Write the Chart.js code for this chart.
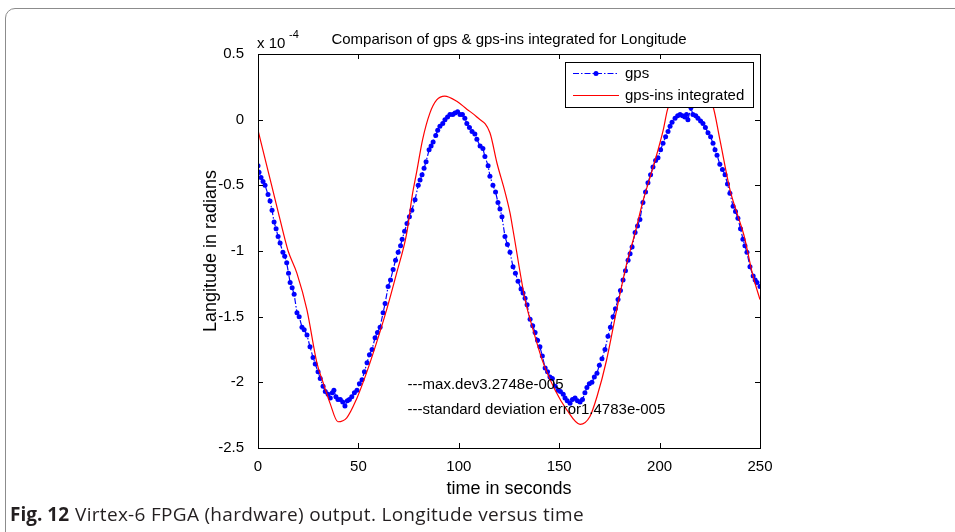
<!DOCTYPE html>
<html>
<head>
<meta charset="utf-8">
<script src="https://cdn.jsdelivr.net/npm/chart.js@4.4.0/dist/chart.umd.min.js"></script>
<style>
    html, body { margin: 0; padding: 0; background: #fff; width: 955px; height: 532px; overflow: hidden; }
    #frame { position: absolute; left: 5px; top: 8px; width: 1000px; height: 600px; border: 1.5px solid #8c8c8c; border-radius: 10px; box-sizing: border-box; }
    #plot { position: absolute; left: 0; top: 0; }
    #caption { position: absolute; left: 10px; top: 501px; font-family: "Open Sans"; font-size: 19px; letter-spacing: 0.3px; color: #231f20; white-space: nowrap; }
    #caption b { margin-right: 6px; letter-spacing: 0; }
</style>
</head>
<body>
<div id="frame"></div>
<canvas id="plot" width="955" height="532"></canvas>
<div id="caption"><b>Fig. 12</b>Virtex-6 FPGA (hardware) output. Longitude versus time</div>
<script>
// values in units of 1e-4 rad, time in seconds
const gpsTime = [0, 0.5, 1.5, 2.5, 3.5, 5, 6, 7, 8, 9, 10, 11, 12.4, 13.3, 14.3, 15.2, 16, 17, 18, 19.4,
    20.5, 21.9, 23, 24.4, 25.9, 27.4, 28.5, 29.9, 31, 32.4, 33.5, 34.9, 36, 37, 37.8, 38.8, 39.8, 41, 42.2, 43.3,
    44.5, 45.5, 46.7, 48, 49.3, 50.5, 51.8, 53, 54.3, 55.5, 56.8, 58.3, 59.5, 60.8, 62.3, 63.3, 64.8, 66, 67.3, 68.5,
    69.8, 71, 71.8, 73, 74.2, 75.4, 76.6, 78.2, 79.8, 80.7, 81.7, 82.7, 83.7, 85.2, 86.2, 87.2, 88.5, 89.5, 90.6, 92,
    93.1, 94.4, 95.6, 97, 98.1, 99.4, 100.6, 101.8, 103, 104, 105.3, 106.6, 108, 109, 110.6, 112, 113, 114.6, 115.5, 117,
    118.3, 119.5, 120.5, 121.5, 123, 124.2, 125.5, 127, 128.2, 129.5, 131, 132, 133, 134, 135.5, 136.8, 138, 139.2, 140.4, 141.6,
    143, 144.2, 145.4, 146.6, 148, 149.4, 150.6, 152, 152.9, 154, 155.4, 156.6, 157.9, 159.1, 160.4, 161.6, 162.8, 163.8, 165, 166.3,
    167.5, 168.8, 170, 171.3, 172.8, 174.3, 175.5, 176.8, 178, 179.3, 180.5, 181.8, 183, 184.3, 185.3, 186.3, 187.8, 189, 190.2, 191.7,
    193, 194.2, 195.5, 196.7, 198, 199.2, 200.5, 201.7, 203, 204.2, 205.2, 206.2, 207.7, 209, 210.2, 211.4, 212.6, 213.4, 214.1, 215.6,
    216.6, 218, 219.1, 220.4, 221.6, 222.8, 224.1, 225.4, 226.6, 227.6, 228.6, 230, 231.3, 232.6, 233.8, 235, 236.6, 237.8, 239, 240.3,
    241.5, 242.5, 243.5, 245, 246.6, 247.6, 248.5, 250];
const gpsLon = [-0.35, -0.40, -0.44, -0.47, -0.50, -0.57, -0.62, -0.69, -0.78, -0.83, -0.89, -0.94, -1.01, -1.04, -1.09, -1.17, -1.24, -1.28, -1.33, -1.47,
    -1.50, -1.58, -1.60, -1.64, -1.73, -1.81, -1.86, -1.92, -1.97, -2.03, -2.07, -2.09, -2.12, -2.08, -2.06, -2.11, -2.13, -2.13, -2.15, -2.18,
    -2.14, -2.13, -2.11, -2.08, -2.06, -2.01, -1.98, -1.92, -1.85, -1.79, -1.75, -1.66, -1.62, -1.58, -1.47, -1.40, -1.27, -1.22, -1.14, -1.07,
    -1.01, -0.96, -0.91, -0.85, -0.79, -0.74, -0.69, -0.61, -0.50, -0.46, -0.42, -0.37, -0.32, -0.23, -0.20, -0.17, -0.12, -0.08, -0.05, -0.03,
    0.00, 0.02, 0.04, 0.04, 0.05, 0.06, 0.04, 0.04, 0.01, -0.03, -0.06, -0.09, -0.11, -0.15, -0.20, -0.22, -0.28, -0.35, -0.43, -0.50,
    -0.55, -0.63, -0.68, -0.74, -0.89, -0.95, -1.01, -1.12, -1.17, -1.23, -1.29, -1.32, -1.36, -1.41, -1.52, -1.57, -1.62, -1.68, -1.73, -1.80,
    -1.89, -1.92, -1.96, -1.97, -2.03, -2.06, -2.07, -2.09, -2.12, -2.14, -2.16, -2.13, -2.12, -2.14, -2.15, -2.13, -2.08, -2.04, -2.01, -2.00,
    -1.96, -1.93, -1.87, -1.82, -1.75, -1.65, -1.58, -1.50, -1.44, -1.37, -1.30, -1.22, -1.15, -1.07, -1.02, -0.97, -0.86, -0.81, -0.76, -0.63,
    -0.55, -0.48, -0.42, -0.36, -0.31, -0.29, -0.23, -0.18, -0.13, -0.09, -0.05, -0.02, 0.01, 0.03, 0.04, 0.03, 0.02, 0.04, 0.00, 0.09,
    0.04, 0.03, 0.01, -0.01, -0.03, -0.06, -0.10, -0.13, -0.18, -0.23, -0.27, -0.34, -0.38, -0.42, -0.49, -0.56, -0.66, -0.70, -0.75, -0.83,
    -0.91, -0.96, -1.01, -1.12, -1.19, -1.22, -1.24, -1.27];

const insTime = [0, 5, 10, 13.4, 15, 19.4, 24.4, 29.3, 32.4, 35.9, 39.8, 44.2, 49, 54, 59, 64, 69, 74, 77, 79,
    82, 85.6, 89, 93, 99, 104, 109, 115.5, 119, 123, 125.5, 127, 133, 137, 142, 148, 153.8, 160.4, 165.3, 168.8,
    173.6, 178.6, 183.7, 187.5, 191.9, 196.8, 201.8, 204, 209, 215, 221, 226.6, 230, 235, 238.5, 242, 246.5, 250];
const insLon = [-0.08, -0.39, -0.70, -0.91, -1.00, -1.17, -1.45, -1.85, -2.00, -2.16, -2.30, -2.27, -2.13, -1.93, -1.70, -1.45, -1.17, -0.87, -0.56, -0.40,
    -0.15, 0.05, 0.15, 0.18, 0.14, 0.08, 0.02, -0.10, -0.33, -0.55, -0.71, -0.84, -1.37, -1.60, -1.85, -2.06, -2.21, -2.32, -2.26, -2.11,
    -1.83, -1.45, -1.09, -0.88, -0.61, -0.36, -0.08, 0.08, 0.22, 0.27, 0.22, 0.10, -0.15, -0.53, -0.71, -0.88, -1.19, -1.37];

const xTicks = [0, 50, 100, 150, 200, 250];
const yTicks = [0.5, 0, -0.5, -1, -1.5, -2, -2.5];

const seriesNames = ['gps', 'gps-ins integrated'];
const notes = ['---max.dev3.2748e-005', '---standard deviation error1.4783e-005'];

const FONT = '"Liberation Sans", Arial, sans-serif';

function fmtTick(v) {
    return v === 0 ? '0' : String(v);
}

// axes box, inward ticks, titles, legend and the two text notes
const matlabAxes = {
    id: 'matlabAxes',
    afterDraw(chart) {
        const c = chart.ctx;
        const a = chart.chartArea;
        const xs = chart.scales.x, ys = chart.scales.y;
        c.save();
        c.strokeStyle = '#000';
        c.lineWidth = 1;
        c.strokeRect(a.left + 0.5, a.top + 0.5, a.right - a.left, a.bottom - a.top);
        c.beginPath();
        xTicks.forEach(t => {
            const px = Math.round(xs.getPixelForValue(t)) + 0.5;
            c.moveTo(px, a.bottom); c.lineTo(px, a.bottom - 5);
            c.moveTo(px, a.top); c.lineTo(px, a.top + 5);
        });
        yTicks.forEach(t => {
            const py = Math.round(ys.getPixelForValue(t)) + 0.5;
            c.moveTo(a.left, py); c.lineTo(a.left + 5, py);
            c.moveTo(a.right, py); c.lineTo(a.right - 5, py);
        });
        c.stroke();

        c.fillStyle = '#000';
        c.font = '15px ' + FONT;
        c.textBaseline = 'alphabetic';
        c.textAlign = 'center';
        c.fillText('Comparison of gps & gps-ins integrated for Longitude', (a.left + a.right) / 2, 44);

        c.textAlign = 'left';
        c.fillText('x 10', a.left - 1, 48);
        c.font = '11px ' + FONT;
        c.fillText('-4', a.left + 31, 38);

        c.font = '18px ' + FONT;
        c.textAlign = 'center';
        c.fillText('time in seconds', (a.left + a.right) / 2, 494);
        c.save();
        c.translate(216, (a.top + a.bottom) / 2);
        c.rotate(-Math.PI / 2);
        c.fillText('Langitude in radians', 0, 0);
        c.restore();

        c.font = '15px ' + FONT;
        c.textAlign = 'left';
        c.fillText(notes[0], xs.getPixelForValue(74.5), 389);
        c.fillText(notes[1], xs.getPixelForValue(74.5), 414);

        // legend box
        const lx = 565, ly = 62, lw = 188, lh = 45;
        c.fillStyle = '#fff';
        c.fillRect(lx, ly, lw, lh);
        c.strokeStyle = '#000';
        c.strokeRect(lx + 0.5, ly + 0.5, lw, lh);
        const gps = chart.data.datasets[1], ins = chart.data.datasets[0];
        c.lineWidth = 1;
        c.strokeStyle = gps.borderColor;
        c.setLineDash(gps.borderDash);
        c.beginPath(); c.moveTo(573, 73.5); c.lineTo(619, 73.5); c.stroke();
        c.setLineDash([]);
        c.fillStyle = gps.borderColor;
        c.beginPath(); c.arc(596, 73.5, 2.5, 0, Math.PI * 2); c.fill();
        c.strokeStyle = ins.borderColor;
        c.lineWidth = 1.2;
        c.beginPath(); c.moveTo(573, 95.5); c.lineTo(619, 95.5); c.stroke();
        c.fillStyle = '#000';
        c.textBaseline = 'middle';
        c.fillText(seriesNames[0], 625, 74);
        c.fillText(seriesNames[1], 625, 96);
        c.restore();
    }
};

const ctx = document.getElementById('plot');
const chart = new Chart(ctx, {
    type: 'line',
    data: {
        datasets: [{
            label: seriesNames[1],
            data: insTime.map((t, i) => ({x: t, y: insLon[i]})),
            borderColor: '#ff0000',
            borderWidth: 1.2,
            pointRadius: 0,
            cubicInterpolationMode: 'monotone',
            order: 0
        }, {
            label: seriesNames[0],
            data: gpsTime.map((t, i) => ({x: t, y: gpsLon[i]})),
            borderColor: '#0000ff',
            backgroundColor: '#0000ff',
            borderWidth: 1.2,
            borderDash: [6, 2, 1.5, 2],
            pointRadius: 2.5,
            pointBorderWidth: 0,
            pointBackgroundColor: '#0000ff',
            tension: 0,
            order: 1
        }]
    },
    options: {
        responsive: false,
        animation: false,
        layout: {padding: {left: 0, right: 195, top: 54, bottom: 0}},
        plugins: {legend: {display: false}, tooltip: {enabled: false}, title: {display: false}},
        scales: {
            x: {
                type: 'linear', min: 0, max: 250,
                grid: {display: false}, border: {display: false},
                ticks: {stepSize: 50, color: '#000', font: {family: FONT, size: 15}, padding: 2, maxRotation: 0},
                afterFit(s) { s.height = 84; }
            },
            y: {
                type: 'linear', min: -2.5, max: 0.5,
                grid: {display: false}, border: {display: false},
                ticks: {stepSize: 0.5, color: '#000', font: {family: FONT, size: 15}, padding: 6, callback: fmtTick},
                afterFit(s) { s.width = 258; }
            }
        }
    },
    plugins: [matlabAxes]
});
</script>
</body>
</html>
